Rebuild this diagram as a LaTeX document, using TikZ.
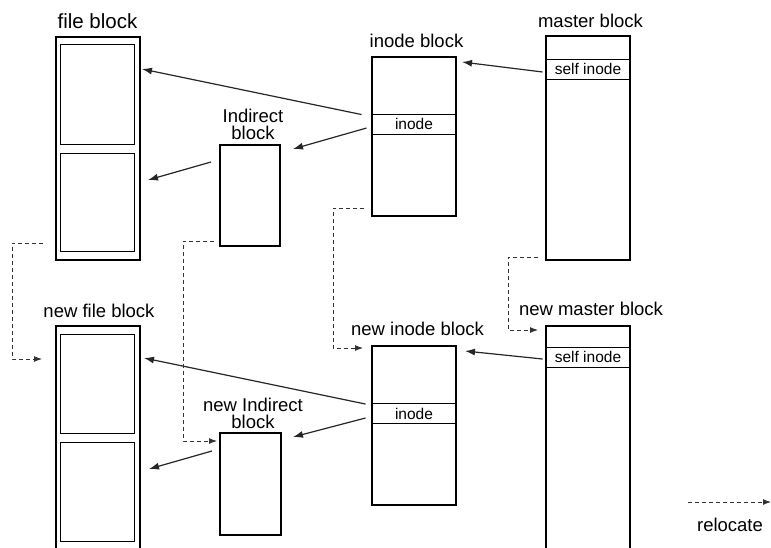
\documentclass[tikz,border=0pt]{standalone}
\usepackage{fontspec}
\setmainfont{Liberation Sans}
\usetikzlibrary{arrows.meta,positioning}

\begin{document}
\begin{tikzpicture}[x=1pt, y=-1pt,
    blk/.style={draw, line width=2pt, inner sep=0pt},
    cell/.style={draw, line width=0.9pt, inner sep=0pt, minimum width=74pt},
    row/.style={draw, line width=0.9pt, inner sep=0pt, minimum width=84pt, minimum height=20pt, font=\fontsize{15.5}{16}\selectfont},
    lbl/.style={anchor=base, inner sep=0pt, align=center, font=\fontsize{18.5}{17}\selectfont},
    ptr/.style={-{Latex[length=10pt,width=7pt]}, line width=1.2pt, black!85},
    reloc/.style={-{Latex[length=8pt,width=6pt]}, line width=0.9pt, dash pattern=on 4pt off 3pt, black!80}
]
\useasboundingbox (0,0) rectangle (771,547);

% old blocks
\node[blk, minimum width=84pt, minimum height=223pt] (fileblk) at (98,148.5) {};
\node[cell, minimum height=100pt] (fcell1) at (97,94) {};
\node[cell, minimum height=98pt] (fcell2) at (97,202) {};
\node[blk, minimum width=60pt, minimum height=101pt] (indir) at (250,195.5) {};
\node[blk, minimum width=84pt, minimum height=159pt] (ino) at (414,136.5) {};
\node[row] (inorow) at (414,124) {inode};
\node[blk, minimum width=84pt, minimum height=224pt] (mst) at (588,148) {};
\node[row] (mstrow) at (588,69) {self inode};

% new blocks
\node[blk, minimum width=84pt, minimum height=244pt] (nfile) at (98,448) {};
\node[cell, minimum height=99pt] (ncell1) at (97,383.5) {};
\node[cell, minimum height=99pt] (ncell2) at (97,491.5) {};
\node[blk, minimum width=61pt, minimum height=102pt] (nindir) at (250.5,484) {};
\node[blk, minimum width=84pt, minimum height=159pt] (nino) at (414,425.5) {};
\node[row] (ninorow) at (414,413.5) {inode};
\node[blk, minimum width=84pt, minimum height=244pt] (nmst) at (588,448) {};
\node[row] (nmstrow) at (588,357) {self inode};

% labels
\node[lbl, font=\fontsize{20.5}{22}\selectfont] (filelbl) at (97.5,28) {file block};
\node[lbl] (inolbl) at (416.5,47) {inode block};
\node[lbl] (mstlbl) at (590.5,27) {master block};
\node[lbl] (indirlbl) at (253,139) {Indirect\\block};
\node[lbl] (nfilelbl) at (99,317) {new file block};
\node[lbl] (ninolbl) at (417.5,335) {new inode block};
\node[lbl] (nmstlbl) at (591,315) {new master block};
\node[lbl] (nindirlbl) at (253,428) {new Indirect\\block};
\node[lbl] (reloclbl) at (730,531) {relocate};

% pointers
\draw[ptr] ([xshift=-10pt,yshift=-1pt]inorow.north west) -- ([xshift=1pt,yshift=-33pt]fileblk.north east);
\draw[ptr] ([xshift=-5pt,yshift=-4pt]inorow.west) -- ([xshift=12pt,yshift=-5pt]indir.north east);
\draw[ptr] ([xshift=-8pt,yshift=-18pt]indir.north west) -- ([xshift=7pt,yshift=-144pt]fileblk.north east);
\draw[ptr] ([xshift=-3pt,yshift=-3pt]mstrow.west) -- ([xshift=5pt,yshift=-6pt]ino.north east);

\draw[ptr] ([xshift=-6pt,yshift=-1pt]ninorow.north west) -- ([xshift=3pt,yshift=-33pt]nfile.north east);
\draw[ptr] ([xshift=-6pt,yshift=-4.5pt]ninorow.west) -- ([xshift=11pt,yshift=-5pt]nindir.north east);
\draw[ptr] ([xshift=-7pt,yshift=-19pt]nindir.north west) -- ([xshift=8pt,yshift=-144pt]nfile.north east);
\draw[ptr] ([xshift=-3pt,yshift=-2pt]nmstrow.west) -- ([xshift=8pt,yshift=-6pt]nino.north east);

% relocation
\draw[reloc] ([xshift=-12pt,yshift=18pt]fileblk.south west) -- ++(-31,0) |- ([xshift=-13pt,yshift=-34pt]nfile.north west);
\draw[reloc] ([xshift=-5pt,yshift=6pt]indir.south west) -- ++(-31,0) |- ([xshift=-2pt,yshift=-9pt]nindir.north west);
\draw[reloc] ([xshift=-7pt,yshift=9pt]ino.south west) -- ++(-31,0) |- ([xshift=-8pt,yshift=-3pt]nino.north west);
\draw[reloc] ([xshift=-7pt,yshift=4pt]mst.south west) -- ++(-30,0) |- ([xshift=-7pt,yshift=-5pt]nmst.north west);

% legend
\coordinate (legfrom) at (688,502);
\coordinate (legto) at (771,502);
\draw[reloc] (legfrom) -- (legto);
\end{tikzpicture}
\end{document}
